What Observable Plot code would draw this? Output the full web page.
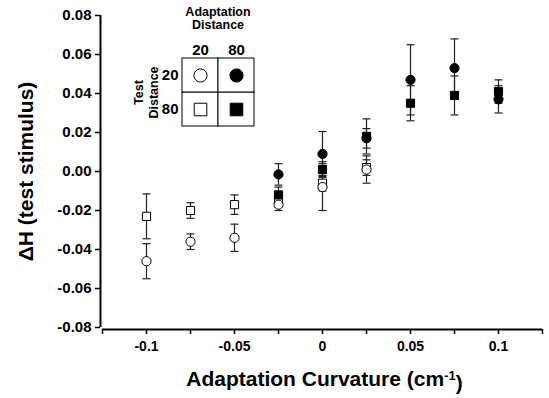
<!DOCTYPE html>
<html><head><meta charset="utf-8">
<script src="https://cdn.jsdelivr.net/npm/d3@7"></script>
<script src="https://cdn.jsdelivr.net/npm/@observablehq/plot@0.6"></script>
<style>
body{margin:0;background:#fff}
#chart{position:relative;width:549px;height:398px;background:#fff}
#legend{position:absolute;left:120px;top:0}
</style></head><body><div id="chart"></div>
<script>
// ---- data ----
const curvOpen   = [-0.1, -0.075, -0.05, -0.025, 0, 0.025];   // adaptation distance 20
const curvFilled = [-0.025, 0, 0.025, 0.05, 0.075, 0.1];      // adaptation distance 80

const t20a20    = [-0.046, -0.036, -0.034, -0.017, -0.008, 0.001];
const t20a20Err = [0.009, 0.004, 0.007, 0.003, 0.012, 0.007];

const t80a20    = [-0.023, -0.020, -0.017, -0.015, -0.006, 0.002];
const t80a20Err = [0.0115, 0.004, 0.005, 0.003, 0.004, 0.004];

const t20a80    = [-0.0015, 0.009, 0.017, 0.047, 0.053, 0.037];
const t20a80Err = [0.0055, 0.0115, 0.005, 0.018, 0.015, 0.007];

const t80a80    = [-0.012, 0.001, 0.018, 0.035, 0.039, 0.041];
const t80a80Err = [0.004, 0.004, 0.009, 0.009, 0.010, 0.006];

const xDomain = [-0.125, 0.125];
const yDomain = [-0.08, 0.08];
const xTicks = [-0.125, -0.1, -0.075, -0.05, -0.025, 0, 0.025, 0.05, 0.075, 0.1, 0.125];
const xLabelled = [-0.1, -0.05, 0, 0.05, 0.1];
const yTicks = [-0.08, -0.06, -0.04, -0.02, 0, 0.02, 0.04, 0.06, 0.08];
const distances = ["20", "80"];
const xTitle = "Adaptation Curvature (cm-1)";
const yTitle = "\u0394H (test stimulus)";
const legendTop = "Adaptation\nDistance";
const legendSide = "Test\nDistance";

// ---- build ----
const series = [
  {x: curvOpen,   y: t80a20, e: t80a20Err, symbol: "square", fill: "white", test: "80", adapt: "20"},
  {x: curvOpen,   y: t20a20, e: t20a20Err, symbol: "circle", fill: "white", test: "20", adapt: "20"},
  {x: curvFilled, y: t80a80, e: t80a80Err, symbol: "square", fill: "black", test: "80", adapt: "80"},
  {x: curvFilled, y: t20a80, e: t20a80Err, symbol: "circle", fill: "black", test: "20", adapt: "80"}
];
const rows = series.map(s => s.x.map((x, i) => ({x, y: s.y[i], lo: s.y[i] - s.e[i], hi: s.y[i] + s.e[i]})));
const allRows = rows.flat();

const cap = {draw(ctx, size) { const r = Math.sqrt(size / Math.PI); ctx.moveTo(-r, 0); ctx.lineTo(r, 0); }};
const FONT = '"Liberation Sans", Arial, Helvetica, sans-serif';
const major = new Set(xLabelled);

const chart = Plot.plot({
  width: 549, height: 398,
  marginLeft: 102, marginRight: 7, marginTop: 15, marginBottom: 71,
  x: {domain: xDomain},
  y: {domain: yDomain},
  style: {fontFamily: FONT, fontWeight: "bold", fontSize: "15px", color: "black", background: "white", overflow: "visible"},
  marks: [
    Plot.ruleX([xDomain[0]], {y1: yDomain[0], y2: yDomain[1], dx: -2, strokeWidth: 2}),
    Plot.ruleY([yDomain[0]], {x1: xDomain[0], x2: xDomain[1], dy: 2, strokeWidth: 2}),
    Plot.axisY({ticks: yTicks, tickFormat: d => d.toFixed(2), tickSize: 5, tickPadding: 4, dx: -2, label: null, strokeWidth: 1.5, fontSize: 15}),
    Plot.axisX({ticks: xTicks, tickFormat: d => major.has(d) ? String(d) : "", tickSize: 5, tickPadding: 7, dy: 2, label: null, strokeWidth: 1.5, fontSize: 14}),
    Plot.ruleX(allRows, {x: "x", y1: "lo", y2: "hi", stroke: "#222", strokeWidth: 1.2}),
    Plot.dot(allRows, {x: "x", y: "lo", symbol: cap, r: 4, stroke: "#222", strokeWidth: 1.2}),
    Plot.dot(allRows, {x: "x", y: "hi", symbol: cap, r: 4, stroke: "#222", strokeWidth: 1.2}),
    ...series.map((s, i) => Plot.dot(rows[i], {x: "x", y: "y", symbol: s.symbol, r: 4.6, fill: s.fill, stroke: "black", strokeWidth: 1})),
    Plot.text([yTitle], {frameAnchor: "left", rotate: -90, dx: -76, textAnchor: "middle", lineAnchor: "middle", fontSize: 21, fontWeight: "bold"}),
    Plot.text([xTitle], {frameAnchor: "bottom", dy: 52, dx: 2, lineAnchor: "middle", fontSize: 21, fontWeight: "bold"})
  ]
});

const legendCells = series.map(s => ({adapt: s.adapt, test: s.test, symbol: s.symbol, fill: s.fill}));
const legend = Plot.plot({
  width: 140, height: 135,
  marginLeft: 61, marginRight: 6, marginTop: 58, marginBottom: 9,
  x: {domain: distances, padding: 0},
  y: {domain: distances, padding: 0},
  style: {fontFamily: FONT, fontWeight: "bold", fontSize: "15px", color: "black", background: "transparent", overflow: "visible"},
  marks: [
    Plot.cell(legendCells, {x: "adapt", y: "test", fill: "white", stroke: "black", strokeWidth: 1}),
    ...legendCells.map(c => Plot.dot([c], {x: "adapt", y: "test", symbol: c.symbol, r: c.symbol === "circle" ? 6.6 : 7.1, fill: c.fill, stroke: "black", strokeWidth: 1})),
    Plot.axisX({anchor: "top", tickSize: 0, tickPadding: 4, label: null, fontSize: 15}),
    Plot.axisY({anchor: "left", tickSize: 0, tickPadding: 3, label: null, fontSize: 15}),
    Plot.text([legendTop], {frameAnchor: "top", dy: -51, lineAnchor: "top", lineHeight: 1.0, fontSize: 12.5, fontWeight: "bold"}),
    Plot.text([legendSide], {frameAnchor: "left", rotate: -90, dx: -35.5, textAnchor: "middle", lineAnchor: "middle", lineHeight: 1.2, fontSize: 12.5, fontWeight: "bold"})
  ]
});
legend.id = "legend";

const host = document.getElementById("chart");
host.appendChild(chart);
host.appendChild(legend);

// superscript for cm-1
chart.querySelectorAll("text").forEach(t => {
  if (t.textContent === xTitle) {
    t.textContent = "";
    const ns = "http://www.w3.org/2000/svg";
    const a = document.createElementNS(ns, "tspan"); a.textContent = "Adaptation Curvature (cm";
    const b = document.createElementNS(ns, "tspan"); b.textContent = "-1"; b.setAttribute("dy", "-0.5em"); b.setAttribute("font-size", "13");
    const c = document.createElementNS(ns, "tspan"); c.textContent = ")"; c.setAttribute("dy", "0.5em");
    t.append(a, b, c);
  }
});
</script></body></html>
